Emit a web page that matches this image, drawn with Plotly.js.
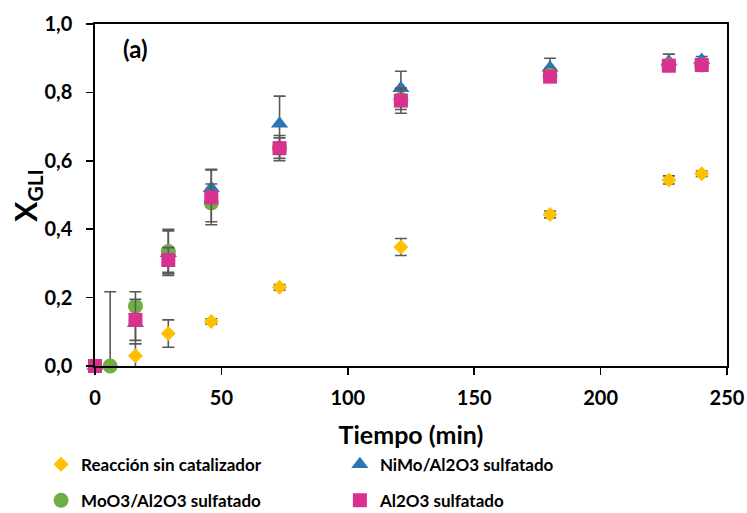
<!DOCTYPE html>
<html><head><meta charset="utf-8">
<script src="https://cdn.plot.ly/plotly-3.0.1.min.js"></script>
<style>html,body{margin:0;padding:0;background:#fff}#chart{width:747px;height:513px}</style>
</head><body><div id="chart"></div>
<script>
// Data
var tSin = [0, 16, 29, 46, 73, 121, 180, 227, 240];
var ySin = [0, 0.03, 0.095, 0.13, 0.23, 0.348, 0.443, 0.544, 0.562];
var eSin = [0, 0.035, 0.04, 0.008, 0.008, 0.025, 0.01, 0.012, 0.008];

var tNiMo = [0, 16, 29, 46, 73, 121, 180, 227, 240];
var yNiMo = [0, 0.125, 0.33, 0.52, 0.708, 0.812, 0.872, 0.89, 0.895];
var eNiMo = [0, 0.06, 0.065, 0.055, 0.081, 0.05, 0.028, 0.022, 0.01];

var tMoO3 = [6, 16, 29, 46, 73, 121, 180, 227, 240];
var yMoO3 = [0, 0.175, 0.335, 0.477, 0.637, 0.78, 0.85, 0.88, 0.88];
var eMoO3Plus = [0.217, 0.042, 0.065, 0.055, 0.03, 0.03, 0.02, 0.015, 0.01];
var eMoO3Minus = [0, 0.042, 0.065, 0.055, 0.03, 0.03, 0.02, 0.015, 0.01];

var tAl = [0, 16, 29, 46, 73, 121, 180, 227, 240];
var yAl = [0, 0.135, 0.31, 0.493, 0.637, 0.776, 0.846, 0.878, 0.88];
var eAl = [0, 0.06, 0.036, 0.08, 0.037, 0.037, 0.015, 0.012, 0.008];

var names = ['Reacción sin catalizador', 'NiMo/Al2O3 sulfatado', 'MoO3/Al2O3 sulfatado', 'Al2O3 sulfatado'];
var colors = ['#FFC000', '#2E75B6', '#70AD47', '#D9318F'];

var errStyle = {color: '#595959', thickness: 1.6, width: 6};
function eb(plus, minus) {
  var o = Object.assign({type: 'data', array: plus, visible: true}, errStyle);
  if (minus) { o.symmetric = false; o.arrayminus = minus; }
  return o;
}
var base = {type: 'scatter', mode: 'markers', cliponaxis: false};
var traces = [
  Object.assign({}, base, {x: tSin, y: ySin, name: names[0], legend: 'legend', error_y: eb(eSin),
    marker: {symbol: 'diamond', size: 11.5, color: colors[0]}}),
  Object.assign({}, base, {x: tNiMo, y: yNiMo, name: names[1], legend: 'legend2', error_y: eb(eNiMo),
    marker: {symbol: 'triangle-up', size: 15, color: colors[1]}}),
  Object.assign({}, base, {x: tMoO3, y: yMoO3, name: names[2], legend: 'legend3', error_y: eb(eMoO3Plus, eMoO3Minus),
    marker: {symbol: 'circle', size: 15, color: colors[2]}}),
  Object.assign({}, base, {x: tAl, y: yAl, name: names[3], legend: 'legend4', error_y: eb(eAl),
    marker: {symbol: 'square', size: 14, color: colors[3]}})
];

var fontFam = 'Lato, "Open Sans", sans-serif';
function leg(x, y) {
  return {
    xref: 'container', yref: 'container', x: x, y: y,
    xanchor: 'left', yanchor: 'middle', itemwidth: 30,
    font: {family: fontFam, size: 17, color: '#000', weight: 'bold'},
    bgcolor: 'rgba(0,0,0,0)', borderwidth: 0
  };
}
var layout = {
  width: 747, height: 513,
  margin: {l: 95, r: 20, t: 24, b: 147, autoexpand: false},
  paper_bgcolor: '#fff', plot_bgcolor: '#fff',
  separators: ', ',
  font: {family: fontFam, color: '#000', size: 18, weight: 'bold'},
  showlegend: true,
  xaxis: {
    range: [0, 250], dtick: 50, tick0: 0, automargin: true,
    showgrid: false, zeroline: false,
    showline: true, linecolor: '#000', linewidth: 2, mirror: true,
    ticks: 'outside', ticklen: 7, tickwidth: 1.5, tickcolor: '#000',
    ticklabelstandoff: 6,
    tickfont: {family: fontFam, size: 20, color: '#000', weight: 'bold'},
    title: {text: 'Tiempo (min)', font: {family: fontFam, size: 25, color: '#000', weight: 'bold'}, standoff: 18}
  },
  yaxis: {
    range: [0, 1.0], dtick: 0.2, tick0: 0, tickformat: '.1f', automargin: false,
    ticksuffix: '\u00a0\u00a0',
    showgrid: false, zeroline: false,
    showline: true, linecolor: '#000', linewidth: 2, mirror: true,
    ticks: 'outside', ticklen: 7, tickwidth: 1.5, tickcolor: '#000',
    tickfont: {family: fontFam, size: 20, color: '#000', weight: 'bold'}
  },
  legend: leg(0.055, 0.094),
  legend2: leg(0.455, 0.094),
  legend3: leg(0.055, 0.024),
  legend4: leg(0.455, 0.024),
  annotations: [{
    text: '(a)', xref: 'paper', yref: 'paper', x: 0.041, y: 0.927,
    xanchor: 'left', yanchor: 'middle', showarrow: false,
    font: {family: fontFam, size: 24, color: '#000', weight: 'bold'}
  }, {
    text: 'X<sub>GLI</sub>', xref: 'paper', yref: 'paper', x: -0.108, y: 0.5,
    xanchor: 'center', yanchor: 'middle', showarrow: false, textangle: -90,
    font: {family: fontFam, size: 30, color: '#000', weight: 'bold'}
  }]
};
Plotly.newPlot('chart', traces, layout, {displayModeBar: false, staticPlot: true});
</script></body></html>
